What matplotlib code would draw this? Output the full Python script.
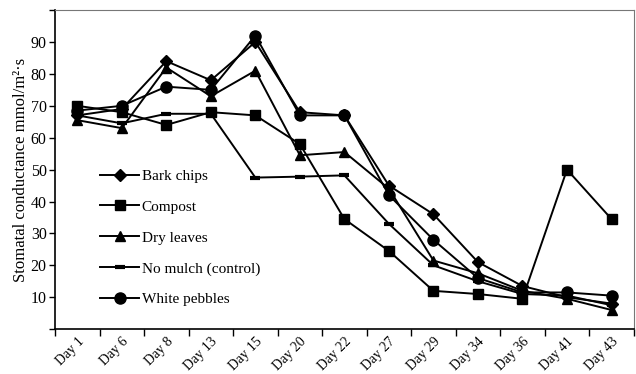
import matplotlib
matplotlib.use("Agg")
import matplotlib.pyplot as plt

days = ["Day 1", "Day 6", "Day 8", "Day 13", "Day 15", "Day 20", "Day 22",
        "Day 27", "Day 29", "Day 34", "Day 36", "Day 41", "Day 43"]

bark_chips = [67, 69, 84, 78, 90, 68, 67, 45, 36, 21, 13.5, 10, 8]
compost = [70, 68, 64, 68, 67, 58, 34.5, 24.5, 12, 11, 9.5, 50, 34.5]
dry_leaves = [65.5, 63, 82, 73, 81, 54.5, 55.5, 44, 21.5, 17.5, 12, 9.5, 6]
no_mulch = [67, 64.5, 67.5, 67.5, 47.5, 47.8, 48.2, 33, 20, 15, 11, 10.5, 7.5]
white_pebbles = [68.5, 70, 76, 75, 92, 67, 67, 42, 28, 16, 11.5, 11.5, 10.5]

plt.rcParams['font.family'] = ['Liberation Serif', 'DejaVu Serif']

fig = plt.figure(figsize=(6.36, 3.74), dpi=100)
ax = fig.add_axes([0.0865, 0.12, 0.91, 0.853])

x = range(len(days))
series = [
    ("Bark chips", bark_chips, dict(marker='D', markersize=6)),
    ("Compost", compost, dict(marker='s', markersize=7.5)),
    ("Dry leaves", dry_leaves, dict(marker='^', markersize=7.5)),
    ("No mulch (control)", no_mulch, dict(marker='_', markersize=7, markeredgewidth=3)),
    ("White pebbles", white_pebbles, dict(marker='o', markersize=8)),
]
for name, vals, style in series:
    ax.plot(x, vals, color='black', linewidth=1.4, label=name, **style)

ax.set_xlim(-0.5, len(days) - 0.5)
ax.set_ylim(0, 100)
ax.set_xticks(list(x))
ax.set_xticklabels(days, rotation=45, fontsize=10, ha='right', rotation_mode='anchor')
ax.tick_params(axis='x', which='major', length=0, pad=4)
ax.set_xticks([i - 0.5 for i in range(len(days) + 1)], minor=True)
ax.tick_params(axis='x', which='minor', length=5, direction='out', width=1)

ax.set_yticks(range(0, 101, 10))
ax.set_yticklabels([""] + [str(v) for v in range(10, 100, 10)] + [""], fontsize=11.5)
ax.tick_params(axis='y', length=4, direction='out', width=1, pad=2)
ax.set_ylabel("Stomatal conductance mmol/m²·s", fontsize=12, labelpad=1)

for s in ['top', 'right']:
    ax.spines[s].set_color('#777777')
for s in ['left', 'bottom']:
    ax.spines[s].set_linewidth(1.2)

ax.legend(loc='upper left', bbox_to_anchor=(0.068, 0.52), frameon=False,
          fontsize=11, labelspacing=1.12, handlelength=2.5, handletextpad=0.2,
          borderaxespad=0)

fig.savefig("out.png", dpi=100)
